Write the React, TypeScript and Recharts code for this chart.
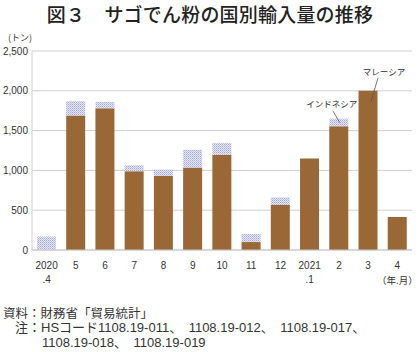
import { Bar, BarChart, CartesianGrid, LabelList, XAxis, YAxis } from "recharts";

const months = ["2020.4", "5", "6", "7", "8", "9", "10", "11", "12", "2021.1", "2", "3", "4"];
const malaysia = [0, 1690, 1780, 990, 930, 1035, 1195, 100, 570, 1150, 1555, 2000, 415];
const indonesia = [170, 180, 80, 75, 80, 225, 150, 100, 90, 0, 95, 0, 0];
const yTicks = [0, 500, 1000, 1500, 2000, 2500];

const data = months.map((m, i) => ({ month: m, malaysia: malaysia[i], indonesia: indonesia[i] }));

const FONT = "'Noto Sans CJK JP', 'Noto Sans', sans-serif";
const NUM_FONT = "'Liberation Sans', 'Noto Sans CJK JP', sans-serif";
const BROWN = "#9a6836";

const MonthTick = (props: any) => {
  const { x, y, payload } = props;
  const v: string = payload.value;
  const parts = v.includes(".") ? [v.split(".")[0], "." + v.split(".")[1]] : [v];
  return (
    <g>
      <text x={x} y={y + 11} textAnchor="middle" fontSize={10} fill="#333" style={{ fontFamily: NUM_FONT }}>
        {parts[0]}
      </text>
      {parts[1] && (
        <text x={x} y={y + 25} textAnchor="middle" fontSize={10} fill="#333" style={{ fontFamily: NUM_FONT }}>
          {parts[1]}
        </text>
      )}
    </g>
  );
};

const ValueTick = (props: any) => {
  const { x, y, payload } = props;
  return (
    <text x={x} y={y + 3.5} textAnchor="end" fontSize={10} fill="#333" style={{ fontFamily: NUM_FONT }}>
      {Number(payload.value).toLocaleString("en-US")}
    </text>
  );
};

// label with leader line, drawn only on the bar of one month
const makeCallout = (month: string, text: string, dx: number, dy: number, l1: number[], l2: number[]) =>
  (props: any) => {
    const { x, y, width, value } = props;
    if (value !== month) return null;
    const cx = x + width / 2;
    return (
      <g>
        <text x={cx + dx} y={y + dy} textAnchor="middle" fontSize={8.5} fill="#333" style={{ fontFamily: FONT }}>
          {text}
        </text>
        <line x1={cx + l1[0]} y1={y + l1[1]} x2={cx + l2[0]} y2={y + l2[1]} stroke="#555" strokeWidth={0.8} />
      </g>
    );
  };

const MalaysiaLabel = makeCallout("3", "マレーシア", 16, -16, [10, -13], [3, 11]);
const IndonesiaLabel = makeCallout("2", "インドネシア", -7, -12, [-6, -8], [1, 4]);

const noteStyle: any = {
  position: "absolute",
  fontSize: 13,
  lineHeight: "15px",
  color: "#333",
  fontFamily: NUM_FONT,
  whiteSpace: "nowrap",
};

export default function App() {
  return (
    <div style={{ position: "absolute", left: 0, top: 0, width: 420, height: 352, background: "#fff", fontFamily: FONT, color: "#333" }}>
      <div style={{ position: "absolute", top: 3, left: 0, width: 420, textAlign: "center", fontSize: 19, fontWeight: 500, letterSpacing: 0.2, lineHeight: "22px", color: "#222" }}>
        図３　サゴでん粉の国別輸入量の推移
      </div>
      <div style={{ position: "absolute", top: 32, left: 8, fontSize: 9, lineHeight: "11px", color: "#333", whiteSpace: "nowrap" }}>(トン)</div>
      <div style={{ position: "absolute", top: 274, left: 377, fontSize: 9.5, lineHeight: "12px", color: "#333", whiteSpace: "nowrap" }}>（年.月）</div>
      <div style={{ position: "absolute", top: 0, left: 0 }}>
        <BarChart
          width={420}
          height={300}
          data={data}
          margin={{ top: 51, right: 8, left: 0, bottom: 10 }}
          barCategoryGap="17%"
        >
          <defs>
            <pattern id="dots" width="2" height="2" patternUnits="userSpaceOnUse">
              <rect width="2" height="2" fill="#e6e7f7" />
              <rect width="1" height="1" fill="#a4a9dc" />
              <rect x="1" y="1" width="1" height="1" fill="#bfc2e8" />
            </pattern>
          </defs>
          <CartesianGrid vertical={false} stroke="#d0d0d0" />
          <XAxis
            dataKey="month"
            height={40}
            tickLine={false}
            axisLine={{ stroke: "#c8c8c8" }}
            tick={<MonthTick />}
            interval={0}
          />
          <YAxis
            width={32}
            domain={[0, 2500]}
            ticks={yTicks}
            tickLine={false}
            tickSize={0}
            axisLine={{ stroke: "#d0d0d0" }}
            tick={<ValueTick />}
            tickMargin={4}
          />
          <Bar dataKey="malaysia" stackId="a" fill={BROWN} isAnimationActive={false}>
            <LabelList dataKey="month" content={MalaysiaLabel} />
          </Bar>
          <Bar dataKey="indonesia" stackId="a" fill="url(#dots)" isAnimationActive={false}>
            <LabelList dataKey="month" content={IndonesiaLabel} />
          </Bar>
        </BarChart>
      </div>
      <div style={{ position: "absolute", top: 305, left: 3, fontSize: 12.5, lineHeight: "15px", color: "#333", whiteSpace: "nowrap" }}>
        資料：財務省「貿易統計」
      </div>
      <div style={{ ...noteStyle, top: 320, left: 15 }}>
        注：HSコード1108.19-011、{"\u2002"}1108.19-012、{"\u2002"}1108.19-017、
      </div>
      <div style={{ ...noteStyle, top: 335, left: 42 }}>
        1108.19-018、{"\u2002"}1108.19-019
      </div>
    </div>
  );
}
